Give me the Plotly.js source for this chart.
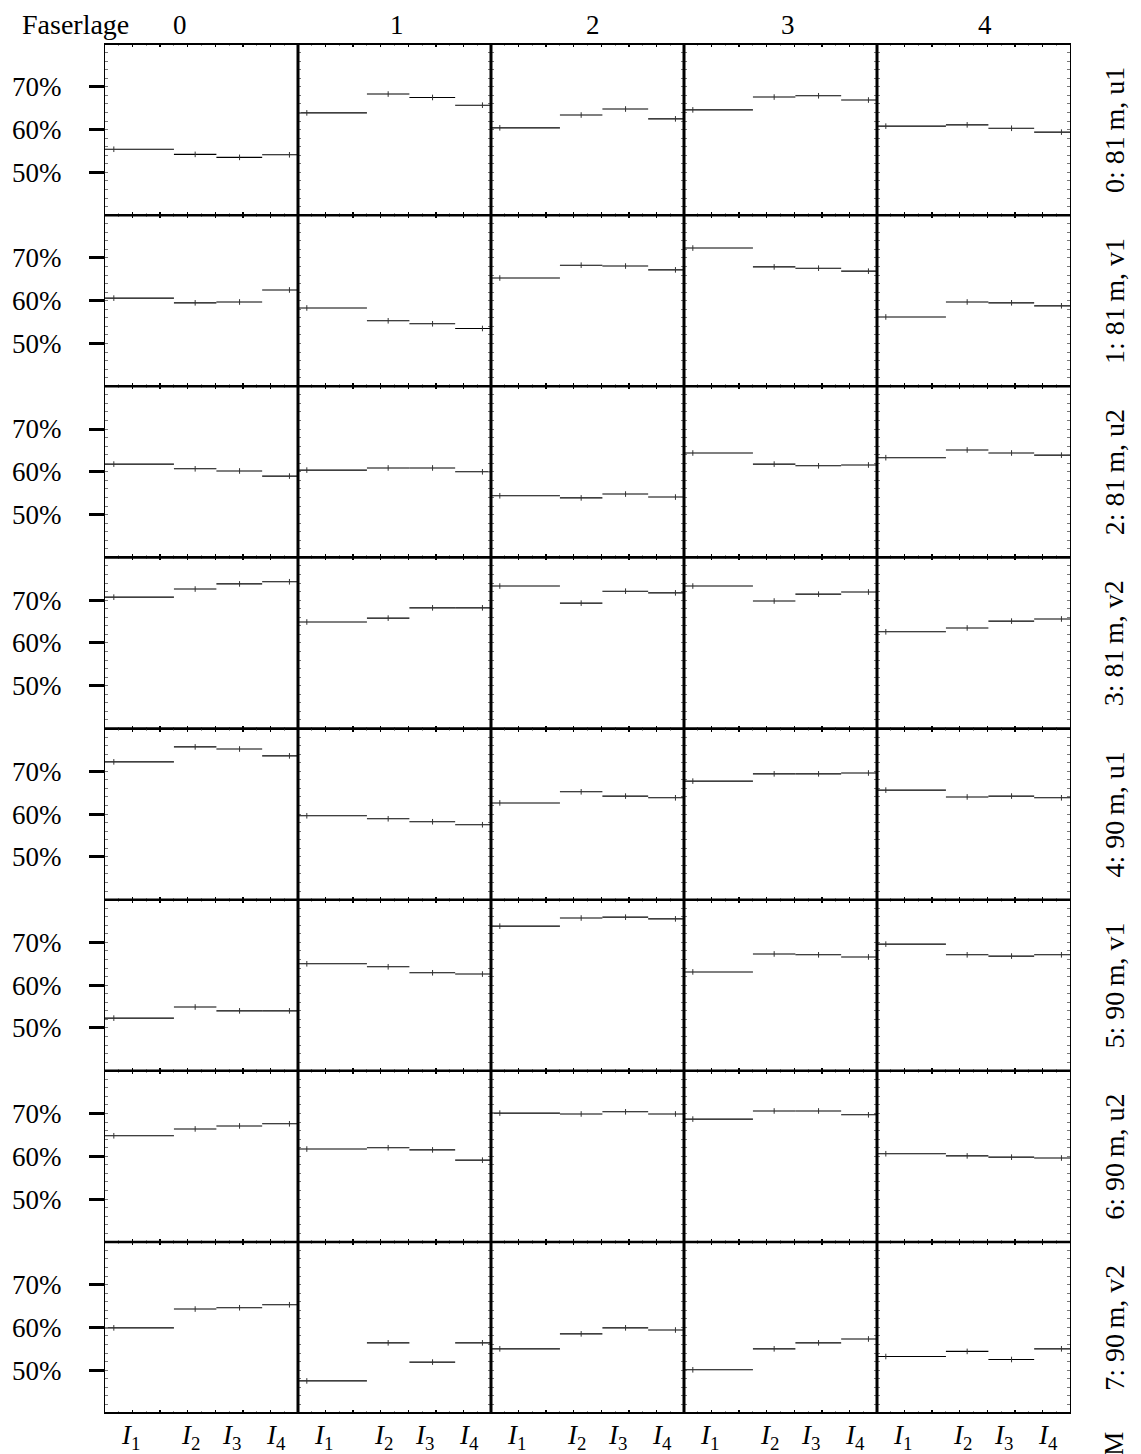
<!DOCTYPE html>
<html>
<head>
<meta charset="utf-8">
<script src="https://cdn.plot.ly/plotly-3.0.1.min.js"></script>
<style>html,body{margin:0;padding:0;background:#fff;}#chart{width:1141px;height:1454px;}</style>
</head>
<body>
<div id="chart"></div>
<script>
// ---- data ----
const colLabels = ["0", "1", "2", "3", "4"];
const rowLabels = ["0: 81\u2009m, u1", "1: 81\u2009m, v1", "2: 81\u2009m, u2", "3: 81\u2009m, v2",
                   "4: 90\u2009m, u1", "5: 90\u2009m, v1", "6: 90\u2009m, u2", "7: 90\u2009m, v2"];
const intensityLabels = ["<i>I</i><sub>1</sub>", "<i>I</i><sub>2</sub>", "<i>I</i><sub>3</sub>", "<i>I</i><sub>4</sub>"];
const labelX = [0.91, 3.09, 4.59, 6.19];
const stepEdges = [0, 2.5, 4.04, 5.7, 7];
const pointX = [0.32, 3.27, 4.88, 6.69];
const yTicks = [50, 60, 70];

// values (%) per row, 5 columns (Faserlage 0..4), 4 intensities each
const row0 = [[55.4, 54.2, 53.5, 54.1], [63.9, 68.3, 67.5, 65.7], [60.4, 63.4, 64.8, 62.5], [64.6, 67.6, 67.9, 66.9], [60.8, 61.1, 60.3, 59.4]];
const row1 = [[60.6, 59.5, 59.7, 62.5], [58.3, 55.3, 54.6, 53.5], [65.3, 68.3, 68.1, 67.2], [72.3, 67.9, 67.6, 66.9], [56.2, 59.7, 59.5, 58.8]];
const row2 = [[61.8, 60.7, 60.2, 59.0], [60.4, 60.9, 60.9, 60.0], [54.4, 53.9, 54.8, 54.1], [64.4, 61.8, 61.4, 61.6], [63.3, 65.1, 64.4, 63.9]];
const row3 = [[70.7, 72.6, 73.8, 74.3], [64.9, 65.8, 68.2, 68.2], [73.3, 69.3, 72.1, 71.7], [73.3, 69.8, 71.4, 71.9], [62.6, 63.5, 65.1, 65.6]];
const row4 = [[72.2, 75.7, 75.2, 73.6], [59.6, 58.9, 58.2, 57.5], [62.6, 65.2, 64.2, 63.8], [67.7, 69.4, 69.4, 69.6], [65.6, 64.0, 64.2, 63.8]];
const row5 = [[52.3, 54.9, 54.0, 54.0], [65.0, 64.3, 62.9, 62.6], [73.8, 75.7, 75.9, 75.5], [63.1, 67.3, 67.1, 66.6], [69.6, 67.1, 66.8, 67.1]];
const row6 = [[64.8, 66.4, 67.1, 67.6], [61.7, 62.0, 61.5, 59.1], [70.1, 69.9, 70.4, 69.9], [68.7, 70.6, 70.6, 69.7], [60.6, 60.1, 59.8, 59.6]];
const row7 = [[59.9, 64.3, 64.6, 65.3], [47.5, 56.4, 51.9, 56.4], [55.0, 58.5, 59.9, 59.4], [50.1, 55.0, 56.4, 57.3], [53.2, 54.4, 52.5, 55.0]];
const rows = [row0, row1, row2, row3, row4, row5, row6, row7];

// ---- build ----
const FONT = "Liberation Serif";
const nR = rows.length, nC = colLabels.length;
const traces = [];
const layout = {
  width: 1141, height: 1454,
  margin: {l: 105, r: 71, t: 44, b: 41},
  paper_bgcolor: "#fff", plot_bgcolor: "#fff",
  showlegend: false,
  font: {family: FONT, size: 26, color: "#000"},
  annotations: [], shapes: []
};

for (let r = 0; r < nR; r++) {
  for (let c = 0; c < nC; c++) {
    const i = r * nC + c + 1;
    const xs = i === 1 ? "x" : "x" + i;
    const ys = i === 1 ? "y" : "y" + i;
    const vals = rows[r][c];
    const lx = [], ly = [];
    for (let k = 0; k < vals.length; k++) {
      lx.push(stepEdges[k], stepEdges[k + 1], null);
      ly.push(vals[k], vals[k], null);
    }
    traces.push({x: lx, y: ly, xaxis: xs, yaxis: ys, mode: "lines", type: "scatter",
      line: {color: "#000", width: 1.1}, hoverinfo: "skip", connectgaps: false});
    traces.push({x: pointX, y: vals, xaxis: xs, yaxis: ys, mode: "markers", type: "scatter",
      marker: {symbol: "line-ns-open", size: 4, color: "#333", line: {color: "#333", width: 1}}, hoverinfo: "skip"});

    const xd = [c / nC, (c + 1) / nC];
    const yd = [1 - (r + 1) / nR, 1 - r / nR];
    layout["xaxis" + (i === 1 ? "" : i)] = {
      domain: xd, anchor: ys, range: [0, 7], fixedrange: true,
      showgrid: false, zeroline: false, showticklabels: false,
      showline: true, linecolor: "#000", linewidth: 1, mirror: "allticks",
      ticks: "inside", tickvals: [0, 1, 2, 3, 4, 5, 6, 7], ticklen: 3, tickwidth: 1.5, tickcolor: "#000",
      minor: {ticks: "inside", dtick: 0.5, ticklen: 2, tickwidth: 1, tickcolor: "#999"}
    };
    const ya = {
      domain: yd, anchor: xs, range: [40, 80], fixedrange: true,
      showgrid: false, zeroline: false,
      showline: true, linecolor: "#000", linewidth: 1,
      minor: {ticks: "inside", dtick: 2, ticklen: 3, tickwidth: 1, tickcolor: "#777"}
    };
    if (c === 0) {
      Object.assign(ya, {
        mirror: true, ticks: "outside", tickvals: yTicks, ticktext: yTicks.map(v => v + "%"),
        ticklen: 15, tickwidth: 3, tickcolor: "#000", showticklabels: true, ticklabelstandoff: 22,
        tickfont: {family: FONT, size: 27, color: "#000"}
      });
    } else {
      Object.assign(ya, {mirror: "allticks", ticks: "", showticklabels: false, tickvals: yTicks});
    }
    layout["yaxis" + (i === 1 ? "" : i)] = ya;

    // intensity labels under bottom row
    if (r === nR - 1) {
      for (let k = 0; k < intensityLabels.length; k++) {
        layout.annotations.push({xref: xs, yref: "paper", x: labelX[k], y: -0.0175,
          text: intensityLabels[k], showarrow: false, xanchor: "center", yanchor: "middle",
          font: {family: FONT, size: 27, color: "#000"}});
      }
    }
  }
  // row label on right
  layout.annotations.push({xref: "paper", yref: "paper", x: 1.046, y: 1 - (r + 0.5) / nR,
    text: rowLabels[r], textangle: -90, showarrow: false, xanchor: "center", yanchor: "middle",
    font: {family: FONT, size: 28, color: "#000"}});
}

// column headers
const headerX = [0.0777, 0.3031, 0.5057, 0.7078, 0.9119];
layout.annotations.push({xref: "paper", yref: "paper", x: -0.031, y: 1.0139, text: "Faserlage",
  showarrow: false, xanchor: "center", yanchor: "middle", font: {family: FONT, size: 28, color: "#000"}});
for (let c = 0; c < nC; c++) {
  layout.annotations.push({xref: "paper", yref: "paper", x: headerX[c], y: 1.0139, text: colLabels[c],
    showarrow: false, xanchor: "center", yanchor: "middle", font: {family: FONT, size: 27, color: "#000"}});
}
// partially visible label at bottom right (cut by the page edge, as in the reference)
layout.annotations.push({xref: "paper", yref: "paper", x: 1.046, y: -0.012, text: "M", textangle: -90,
  showarrow: false, xanchor: "center", yanchor: "top", font: {family: FONT, size: 27, color: "#000"}});

// thick inner borders
for (let c = 1; c < nC; c++) {
  layout.shapes.push({type: "line", xref: "paper", yref: "paper", x0: c / nC, x1: c / nC, y0: 0, y1: 1,
    line: {color: "#000", width: 3}});
}
for (let r = 1; r < nR; r++) {
  layout.shapes.push({type: "line", xref: "paper", yref: "paper", x0: 0, x1: 1, y0: r / nR, y1: r / nR,
    line: {color: "#000", width: 2.5}});
}
layout.shapes.push({type: "line", xref: "paper", yref: "paper", x0: 0, x1: 1, y0: 1, y1: 1, line: {color: "#000", width: 2}});
layout.shapes.push({type: "line", xref: "paper", yref: "paper", x0: 0, x1: 1, y0: 0, y1: 0, line: {color: "#000", width: 2}});

Plotly.newPlot("chart", traces, layout, {displayModeBar: false, staticPlot: true});
</script>
</body>
</html>
